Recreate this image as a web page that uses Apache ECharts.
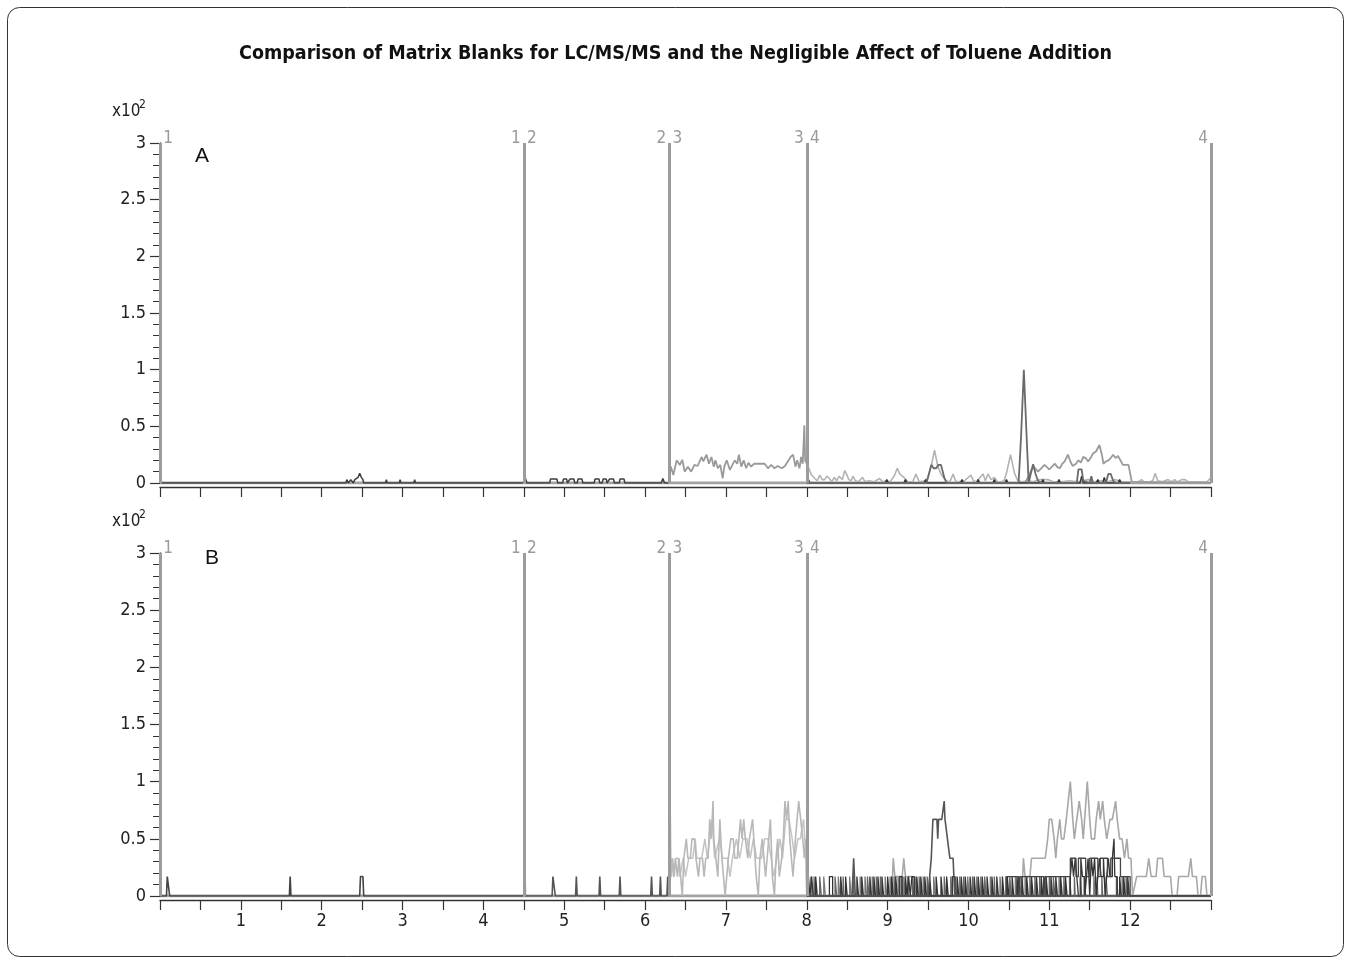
<!DOCTYPE html>
<html>
<head>
<meta charset="utf-8">
<script src="https://cdn.jsdelivr.net/npm/echarts/dist/echarts.min.js"></script>
<style>
html,body{margin:0;padding:0;background:#fff;}
#chart{width:1351px;height:964px;}
</style>
</head>
<body>
<div id="chart"></div>
<script>
// ---------- data ----------
const titleText = 'Comparison of Matrix Blanks for LC/MS/MS and the Negligible Affect of Toluene Addition';
const xLabelValues = [1,2,3,4,5,6,7,8,9,10,11,12];
const segmentBounds = [0, 4.5, 6.3, 8, 13];
const segmentLabels = [[' ', '1'], ['1', '2'], ['2', '3'], ['3', '4'], ['4', ' ']];
const panelNames = ['A', 'B'];

// Panel A (values in x10^2 counts)
const aBaseline = [[0,0],[13,0]];
const aSeg1Dark = [[0,0.03],[0.02,0],[2.30,0],[2.31,0.03],[2.32,0.03],[2.33,0],[2.35,0],[2.36,0.03],[2.38,0.03],[2.39,0],[2.41,0.03],[2.43,0.04],[2.45,0.05],[2.47,0.085],[2.49,0.05],[2.51,0.03],[2.52,0],[2.79,0],[2.80,0.03],[2.81,0],[2.96,0],[2.97,0.03],[2.98,0],[3.14,0],[3.15,0.03],[3.16,0],[4.49,0]];
const aSeg2Dark = [[4.50,0],[4.51,0.13],[4.52,0.04],[4.54,0],[4.82,0],[4.83,0.035],[4.91,0.035],[4.92,0],[4.98,0],[4.99,0.035],[5.03,0.035],[5.04,0],[5.06,0],[5.07,0.035],[5.12,0.035],[5.13,0],[5.16,0],[5.17,0.035],[5.22,0.035],[5.23,0],[5.37,0],[5.38,0.035],[5.43,0.035],[5.44,0],[5.47,0],[5.48,0.035],[5.52,0.035],[5.53,0],[5.55,0],[5.56,0.035],[5.61,0.035],[5.62,0],[5.68,0],[5.69,0.035],[5.74,0.035],[5.75,0],[6.20,0],[6.22,0.04],[6.24,0],[6.29,0]];
const aSeg3Gray = [[6.30,0.04],[6.32,0.144],[6.35,0.07],[6.39,0.20],[6.43,0.16],[6.46,0.205],[6.49,0.10],[6.53,0.144],[6.57,0.10],[6.61,0.16],[6.65,0.15],[6.70,0.23],[6.72,0.19],[6.76,0.25],[6.79,0.17],[6.82,0.23],[6.85,0.144],[6.87,0.20],[6.90,0.13],[6.93,0.16],[6.96,0.04],[6.98,0.144],[7.01,0.20],[7.05,0.115],[7.08,0.16],[7.11,0.20],[7.14,0.17],[7.16,0.25],[7.19,0.144],[7.22,0.20],[7.25,0.13],[7.28,0.18],[7.31,0.144],[7.35,0.17],[7.42,0.17],[7.48,0.17],[7.52,0.13],[7.56,0.16],[7.60,0.13],[7.64,0.15],[7.69,0.13],[7.73,0.15],[7.75,0.144],[7.80,0.23],[7.83,0.25],[7.86,0.144],[7.88,0.20],[7.91,0.13],[7.93,0.23],[7.95,0.17],[7.97,0.51],[7.98,0.20],[8.00,0.17]];
const aSeg4Light = [[8.00,0.17],[8.03,0.12],[8.06,0.07],[8.10,0.04],[8.13,0.02],[8.16,0.07],[8.19,0.03],[8.22,0.03],[8.25,0.06],[8.28,0.04],[8.31,0.01],[8.34,0.05],[8.37,0.02],[8.40,0.06],[8.44,0.03],[8.47,0.11],[8.49,0.08],[8.52,0.03],[8.55,0.02],[8.57,0.06],[8.60,0.02],[8.64,0.01],[8.69,0.05],[8.72,0.01],[8.77,0.02],[8.83,0.01],[8.90,0.04],[8.94,0.01],[8.98,0.02],[9.03,0.01],[9.08,0.06],[9.12,0.13],[9.15,0.08],[9.17,0.08],[9.20,0.05],[9.25,0.01],[9.31,0.01],[9.35,0.08],[9.39,0.01],[9.47,0.02],[9.50,0.05],[9.54,0.15],[9.58,0.29],[9.62,0.15],[9.66,0.08],[9.72,0.02],[9.77,0.01],[9.81,0.08],[9.84,0.02],[9.87,0.01],[9.95,0.02],[10.03,0.07],[10.06,0.02],[10.10,0.01],[10.18,0.08],[10.21,0.02],[10.24,0.08],[10.28,0.03],[10.32,0.05],[10.36,0.01],[10.40,0.01],[10.44,0.02],[10.47,0.085],[10.52,0.25],[10.57,0.085],[10.61,0.02],[10.66,0.01],[10.74,0.02],[10.80,0.01],[10.88,0.03],[10.98,0.03],[11.05,0.01],[11.15,0.01],[11.25,0.02],[11.35,0.01],[11.48,0.03],[11.55,0.01],[11.65,0.02],[11.73,0.01],[11.81,0.03],[11.90,0.01],[12.02,0.01],[12.10,0.01],[12.14,0.03],[12.17,0.01],[12.24,0.01],[12.28,0.02],[12.31,0.085],[12.34,0.02],[12.40,0.01],[12.47,0.03],[12.51,0.01],[12.55,0.03],[12.58,0.01],[12.64,0.03],[12.68,0.03],[12.72,0.01],[12.80,0.01],[12.88,0.01],[12.95,0.01],[12.99,0.04]];
const aSeg4Mid = [[8.0,0],[10.70,0],[10.74,0.055],[10.80,0.15],[10.86,0.10],[10.90,0.13],[10.94,0.16],[11.00,0.12],[11.04,0.15],[11.07,0.17],[11.10,0.14],[11.13,0.13],[11.16,0.17],[11.19,0.19],[11.23,0.25],[11.26,0.19],[11.29,0.15],[11.33,0.17],[11.36,0.20],[11.39,0.18],[11.42,0.23],[11.45,0.22],[11.48,0.19],[11.51,0.22],[11.54,0.26],[11.58,0.28],[11.62,0.335],[11.65,0.25],[11.67,0.17],[11.70,0.19],[11.73,0.20],[11.76,0.22],[11.79,0.25],[11.82,0.22],[11.85,0.24],[11.88,0.20],[11.91,0.16],[11.95,0.16],[11.98,0.16],[12.02,0.01],[13.0,0]];
const aSeg4Peak = [[8.0,0],[9.48,0],[9.50,0.05],[9.54,0.16],[9.57,0.13],[9.60,0.13],[9.63,0.16],[9.66,0.16],[9.70,0.05],[9.73,0],[10.62,0],[10.65,0.4],[10.685,1.0],[10.72,0.4],[10.745,0],[10.77,0.08],[10.80,0.165],[10.83,0.08],[10.86,0.02],[10.9,0],[11.34,0],[11.36,0.12],[11.40,0.12],[11.42,0.02],[11.50,0],[11.52,0.06],[11.54,0],[11.70,0],[11.73,0.08],[11.76,0.08],[11.79,0.02],[11.82,0],[12.0,0]];
const aSeg4Dark = [[8.0,0],[8.02,0.03],[8.04,0],[8.97,0],[8.99,0.03],[9.01,0],[9.20,0],[9.22,0.03],[9.24,0],[9.45,0],[9.47,0.03],[9.49,0],[9.90,0],[9.92,0.03],[9.94,0],[10.10,0],[10.12,0.03],[10.14,0],[10.30,0],[10.32,0.03],[10.34,0],[10.45,0],[10.47,0.03],[10.49,0],[10.90,0],[10.92,0.03],[10.94,0],[11.10,0],[11.12,0.03],[11.14,0],[11.38,0],[11.40,0.06],[11.42,0],[11.58,0],[11.60,0.03],[11.62,0],[11.66,0],[11.68,0.05],[11.70,0],[11.85,0],[11.87,0.03],[11.89,0],[12.0,0]];

// Panel B
const bBaseline = [[0,0],[13,0]];
const bSeg1Dark = [[0,0],[0.08,0],[0.09,0.17],[0.11,0.17],[0.12,0],[1.60,0],[1.61,0.17],[1.62,0],[2.47,0],[2.48,0.17],[2.51,0.17],[2.52,0],[4.49,0]];
const bSeg2Dark = [[4.50,0],[4.51,0.5],[4.52,0],[4.85,0],[4.86,0.17],[4.88,0.17],[4.89,0],[5.14,0],[5.15,0.17],[5.16,0],[5.43,0],[5.44,0.17],[5.45,0],[5.68,0],[5.69,0.17],[5.70,0],[6.07,0],[6.08,0.17],[6.09,0],[6.18,0],[6.19,0.17],[6.20,0],[6.27,0],[6.28,0.17],[6.29,0]];
const bSeg3Light = [[6.30,0],[6.31,0.83],[6.32,0.17],[6.34,0.33],[6.36,0.17],[6.375,0.33],[6.40,0.17],[6.42,0.33],[6.44,0.33],[6.46,0],[6.48,0.33],[6.51,0.5],[6.53,0.33],[6.56,0.33],[6.58,0.5],[6.61,0.5],[6.63,0.33],[6.66,0.17],[6.68,0.33],[6.71,0.33],[6.73,0.17],[6.75,0.33],[6.78,0.33],[6.80,0.67],[6.82,0.5],[6.84,0.83],[6.85,0.5],[6.875,0.33],[6.90,0.17],[6.925,0.67],[6.95,0.33],[6.97,0.17],[6.99,0],[7.01,0.17],[7.03,0.33],[7.06,0.5],[7.09,0.5],[7.11,0.33],[7.14,0.33],[7.16,0.5],[7.18,0.67],[7.20,0.5],[7.22,0.67],[7.24,0.5],[7.27,0.33],[7.29,0.5],[7.31,0.5],[7.33,0.67],[7.36,0.33],[7.375,0.17],[7.40,0],[7.42,0.33],[7.45,0.5],[7.47,0.5],[7.49,0.17],[7.51,0.33],[7.53,0.5],[7.55,0.67],[7.575,0.17],[7.60,0],[7.62,0.33],[7.64,0.5],[7.66,0.17],[7.69,0.33],[7.71,0.5],[7.73,0.83],[7.75,0.67],[7.77,0.83],[7.79,0.5],[7.81,0.33],[7.83,0.17],[7.86,0.5],[7.88,0.67],[7.90,0.83],[7.925,0.67],[7.95,0.5],[7.97,0.33],[7.99,0.5],[8.0,0]];
const bSeg3Mid = [[6.30,0],[6.33,0.33],[6.35,0.17],[6.38,0.33],[6.41,0.33],[6.43,0.17],[6.47,0.33],[6.50,0.17],[6.54,0.33],[6.59,0.33],[6.62,0.5],[6.64,0.33],[6.70,0.33],[6.74,0.5],[6.77,0.33],[6.83,0.67],[6.86,0.33],[6.92,0.5],[6.96,0.33],[7.02,0.33],[7.05,0.17],[7.08,0.33],[7.13,0.5],[7.17,0.33],[7.21,0.5],[7.26,0.5],[7.30,0.33],[7.34,0.5],[7.38,0.33],[7.44,0.33],[7.48,0.5],[7.52,0.5],[7.56,0.33],[7.59,0.17],[7.63,0.33],[7.67,0.5],[7.70,0.33],[7.74,0.67],[7.78,0.67],[7.82,0.5],[7.85,0.33],[7.89,0.5],[7.92,0.5],[7.96,0.67],[7.99,0.33],[8.0,0]];
const bSeg4Dark = [[8.00,0],[8.02,0.17],[8.04,0],[8.06,0.17],[8.08,0],[8.11,0.17],[8.13,0],[8.28,0.17],[8.32,0],[8.42,0.17],[8.44,0],[8.48,0.17],[8.50,0],[8.62,0.17],[8.64,0],[8.68,0.17],[8.70,0],[8.78,0.17],[8.80,0],[8.83,0.17],[8.85,0],[8.88,0.17],[8.90,0],[8.93,0.17],[8.95,0],[9.00,0.17],[9.02,0],[9.05,0.17],[9.07,0],[9.10,0.17],[9.12,0],[9.15,0.17],[9.18,0],[9.22,0.17],[9.24,0],[9.26,0.17],[9.28,0],[9.30,0.17],[9.33,0],[9.36,0.17],[9.38,0],[9.41,0.17],[9.43,0],[9.46,0.17],[9.48,0],[9.52,0.17],[9.54,0],[9.60,0.17],[9.62,0],[9.66,0.17],[9.68,0],[9.73,0.17],[9.75,0],[9.80,0.17],[9.83,0],[9.86,0.17],[9.88,0],[9.91,0.17],[9.93,0],[9.96,0.17],[9.98,0],[10.02,0.17],[10.04,0],[10.07,0.17],[10.09,0],[10.12,0.17],[10.14,0],[10.17,0.17],[10.19,0],[10.23,0.17],[10.25,0],[10.29,0.17],[10.31,0],[10.35,0.17],[10.37,0],[10.42,0.17],[10.44,0],[10.48,0.17],[10.50,0],[10.54,0.17],[10.56,0],[10.60,0.17],[10.62,0],[10.66,0.17],[10.68,0],[10.72,0.17],[10.74,0],[10.78,0.17],[10.80,0],[10.84,0.17],[10.86,0],[10.90,0.17],[10.92,0],[10.96,0.17],[10.98,0],[11.02,0.17],[11.04,0],[11.08,0.17],[11.10,0],[11.14,0.17],[11.16,0],[11.20,0.17],[11.22,0],[11.26,0.17],[11.28,0.33],[11.30,0.17],[11.32,0.33],[11.34,0.17],[11.36,0],[11.39,0.33],[11.41,0.17],[11.44,0],[11.46,0.17],[11.48,0.33],[11.50,0],[11.52,0.33],[11.54,0.17],[11.56,0.33],[11.58,0],[11.60,0.17],[11.62,0.33],[11.64,0.17],[11.67,0.33],[11.69,0],[11.71,0.17],[11.73,0.33],[11.75,0.17],[11.78,0.33],[11.80,0.5],[11.81,0.17],[11.84,0],[11.87,0.17],[11.89,0],[11.92,0.17],[11.94,0],[11.97,0.17],[11.99,0],[13.0,0]];
const bSeg4Plateau = [[8.0,0],[10.47,0.17],[10.62,0],[10.64,0.17],[10.93,0],[10.95,0.17],[11.26,0.33],[11.33,0.17],[11.36,0.33],[11.45,0.17],[11.50,0.33],[11.60,0.17],[11.63,0.33],[11.72,0.17],[11.76,0.33],[11.88,0.17],[12.0,0],[13.0,0]];
const bSeg4Gray = [[8.0,0],[8.05,0.17],[8.07,0],[8.21,0.17],[8.23,0],[8.39,0.17],[8.41,0],[8.53,0.17],[8.55,0],[8.66,0.17],[8.68,0],[8.72,0.17],[8.74,0],[8.81,0.17],[8.83,0],[8.97,0.17],[8.99,0],[9.03,0.17],[9.05,0],[9.13,0.17],[9.15,0],[9.20,0.17],[9.22,0],[9.34,0.17],[9.36,0],[9.44,0.17],[9.46,0],[9.57,0.17],[9.59,0],[9.78,0.17],[9.80,0],[9.89,0.17],[9.91,0],[9.99,0.17],[10.01,0],[10.10,0.17],[10.12,0],[10.15,0.17],[10.17,0],[10.27,0.17],[10.29,0],[10.39,0.17],[10.41,0],[10.46,0.17],[10.48,0],[10.58,0.17],[10.60,0],[10.70,0.17],[10.72,0],[10.82,0.17],[10.84,0],[10.94,0.17],[10.96,0],[11.12,0.17],[11.14,0],[11.25,0.17],[11.27,0],[11.38,0.17],[11.40,0],[11.55,0.17],[11.57,0],[11.70,0.17],[11.72,0],[11.90,0.17],[11.92,0],[12.0,0]];
const bSeg4Gray2 = [[8.0,0],[8.09,0.17],[8.10,0],[8.16,0.17],[8.18,0],[8.35,0.17],[8.37,0],[8.45,0.17],[8.46,0],[8.57,0.17],[8.59,0],[8.75,0.17],[8.77,0],[8.86,0.17],[8.87,0],[8.91,0.17],[8.92,0],[9.08,0.17],[9.09,0],[9.17,0.17],[9.19,0],[9.25,0.17],[9.26,0],[9.31,0.17],[9.32,0],[9.39,0.17],[9.40,0],[9.49,0.17],[9.51,0],[9.70,0.17],[9.72,0],[9.84,0.17],[9.85,0],[9.94,0.17],[9.95,0],[10.05,0.17],[10.06,0],[10.20,0.17],[10.22,0],[10.32,0.17],[10.33,0],[10.51,0.17],[10.53,0],[10.63,0.17],[10.65,0],[10.76,0.17],[10.77,0],[10.88,0.17],[10.89,0],[11.00,0.17],[11.01,0],[11.05,0.17],[11.07,0],[11.18,0.17],[11.19,0],[11.31,0.17],[11.32,0],[11.43,0.17],[11.45,0],[11.59,0.17],[11.60,0],[11.65,0.17],[11.66,0],[11.83,0.17],[11.85,0],[11.95,0.17],[11.97,0],[12.0,0]];
const bSeg4Mid = [[8.0,0],[8.56,0],[8.58,0.33],[8.60,0],[9.50,0],[9.52,0.17],[9.54,0.33],[9.56,0.67],[9.61,0.67],[9.62,0.5],[9.63,0.67],[9.67,0.67],[9.70,0.83],[9.71,0.67],[9.74,0.5],[9.77,0.33],[9.81,0.33],[9.83,0],[12.0,0]];
const bSeg4Light = [[8.0,0],[9.05,0],[9.07,0.33],[9.09,0.17],[9.18,0.17],[9.20,0.33],[9.22,0.17],[9.30,0.17],[9.32,0],[10.66,0],[10.68,0.33],[10.70,0.17],[10.76,0.17],[10.78,0.33],[10.95,0.33],[10.98,0.5],[11.0,0.67],[11.03,0.67],[11.06,0.5],[11.08,0.33],[11.10,0.5],[11.13,0.67],[11.15,0.5],[11.18,0.5],[11.21,0.67],[11.26,1.0],[11.29,0.67],[11.31,0.5],[11.34,0.67],[11.37,0.83],[11.40,0.67],[11.42,0.5],[11.47,1.0],[11.50,0.67],[11.52,0.5],[11.56,0.5],[11.58,0.67],[11.61,0.83],[11.63,0.67],[11.66,0.83],[11.68,0.67],[11.71,0.5],[11.75,0.67],[11.78,0.67],[11.82,0.83],[11.84,0.67],[11.87,0.5],[11.90,0.5],[11.93,0.33],[11.96,0.5],[11.98,0.33],[12.01,0.33],[12.03,0],[12.08,0.17],[12.20,0.17],[12.23,0.33],[12.26,0.17],[12.32,0.17],[12.34,0.33],[12.40,0.33],[12.42,0.17],[12.50,0.17],[12.52,0],[12.58,0],[12.60,0.17],[12.72,0.17],[12.75,0.33],[12.77,0.17],[12.82,0.17],[12.84,0],[12.87,0],[12.89,0.17],[12.93,0.17],[12.95,0]];

// ---------- chart ----------
const narrow = "'Liberation Sans Narrow', 'DejaVu Sans Condensed', 'Roboto Condensed', sans-serif";
const chart = echarts.init(document.getElementById('chart'), null, {renderer: 'canvas'});

function mkX(i, showLabels) {
  return {
    type: 'value', gridIndex: i, min: 0, max: 13, interval: 0.5, offset: 4,
    axisLine: {show: true, onZero: false, lineStyle: {color: '#333', width: 1.4}},
    axisTick: {show: true, length: 10, lineStyle: {color: '#333', width: 1.2}},
    axisLabel: {show: showLabels, margin: 12, fontFamily: narrow, fontSize: 18, color: '#222',
      formatter: v => xLabelValues.includes(v) ? String(v) : ''},
    splitLine: {show: false}
  };
}
function mkY(i) {
  return {
    type: 'value', gridIndex: i, min: 0, max: 3, interval: 0.5,
    axisLine: {show: true, lineStyle: {color: '#444', width: 1.4}},
    axisTick: {show: true, length: 10, lineStyle: {color: '#333', width: 1.2}},
    minorTick: {show: true, splitNumber: 5, length: 7, lineStyle: {color: '#333', width: 1}},
    axisLabel: {margin: 14, fontFamily: narrow, fontSize: 18, color: '#222'},
    splitLine: {show: false}
  };
}
function line(data, gi, color, width, step) {
  return {
    type: 'line', xAxisIndex: gi, yAxisIndex: gi, data: data, symbol: 'none',
    step: step || false, silent: true, animation: false,
    lineStyle: {color: color, width: width}
  };
}
function baseline(data, gi) {
  const s = line(data, gi, '#a3a3a3', 3);
  s.markLine = {
    silent: true, symbol: ['none', 'none'], animation: false,
    lineStyle: {color: '#9c9c9c', width: 3, type: 'solid'},
    label: {show: true, position: 'end', distance: -4, color: '#999',
      rich: {
        l: {width: 10, align: 'right', padding: [0, 3, 0, 0], fontFamily: narrow, fontSize: 17, color: '#9a9a9a'},
        r: {width: 10, align: 'left', padding: [0, 0, 0, 3], fontFamily: narrow, fontSize: 17, color: '#9a9a9a'}
      }},
    data: segmentBounds.map((b, k) => ({
      xAxis: b,
      label: {formatter: '{l|' + segmentLabels[k][0] + '}{r|' + segmentLabels[k][1] + '}'}
    }))
  };
  return s;
}

const option = {
  animation: false,
  backgroundColor: '#fff',
  title: {text: titleText, left: 'center', top: 39,
    textStyle: {fontFamily: narrow, fontWeight: 'bold', fontSize: 19.5, color: '#111'}},
  grid: [
    {left: 160, right: 140, top: 143, height: 340},
    {left: 160, right: 140, top: 553, height: 343}
  ],
  xAxis: [mkX(0, false), mkX(1, true)],
  yAxis: [mkY(0), mkY(1)],
  graphic: [
    {type: 'rect', shape: {x: 7.5, y: 7.5, width: 1336, height: 949, r: 12},
      style: {fill: 'none', stroke: '#333', lineWidth: 1}, silent: true},
    {type: 'text', left: 195, top: 146, style: {text: panelNames[0], font: "21px 'Liberation Sans', Arial, sans-serif", fill: '#111'}},
    {type: 'text', left: 205, top: 548, style: {text: panelNames[1], font: "21px 'Liberation Sans', Arial, sans-serif", fill: '#111'}},
    {type: 'text', left: 112, top: 103, style: {text: 'x10', font: "17px " + narrow, fill: '#222'}},
    {type: 'text', left: 139, top: 99, style: {text: '2', font: "12px " + narrow, fill: '#222'}},
    {type: 'text', left: 112, top: 513, style: {text: 'x10', font: "17px " + narrow, fill: '#222'}},
    {type: 'text', left: 139, top: 509, style: {text: '2', font: "12px " + narrow, fill: '#222'}}
  ],
  series: [
    baseline(aBaseline, 0),
    line(aSeg1Dark, 0, '#3d3d3d', 1.5),
    line(aSeg2Dark, 0, '#3d3d3d', 1.5),
    line(aSeg3Gray, 0, '#9a9a9a', 1.8),
    line(aSeg4Light, 0, '#b3b3b3', 1.6),
    line(aSeg4Mid, 0, '#9a9a9a', 1.8),
    line(aSeg4Dark, 0, '#333', 1.4),
    line(aSeg4Peak, 0, '#6a6a6a', 1.8),
    baseline(bBaseline, 1),
    line(bSeg1Dark, 1, '#444', 1.6),
    line(bSeg2Dark, 1, '#555', 1.6),
    line(bSeg3Mid, 1, '#c4c4c4', 1.5),
    line(bSeg3Light, 1, '#b8b8b8', 1.6),
    line(bSeg4Light, 1, '#a8a8a8', 1.6),
    line(bSeg4Gray, 1, '#7a7a7a', 1.3, 'end'),
    line(bSeg4Gray2, 1, '#666', 1.3, 'end'),
    line(bSeg4Dark, 1, '#333', 1.3, 'end'),
    line(bSeg4Plateau, 1, '#444', 1.3, 'end'),
    line(bSeg4Mid, 1, '#555', 1.6)
  ]
};
chart.setOption(option);
</script>
</body>
</html>
